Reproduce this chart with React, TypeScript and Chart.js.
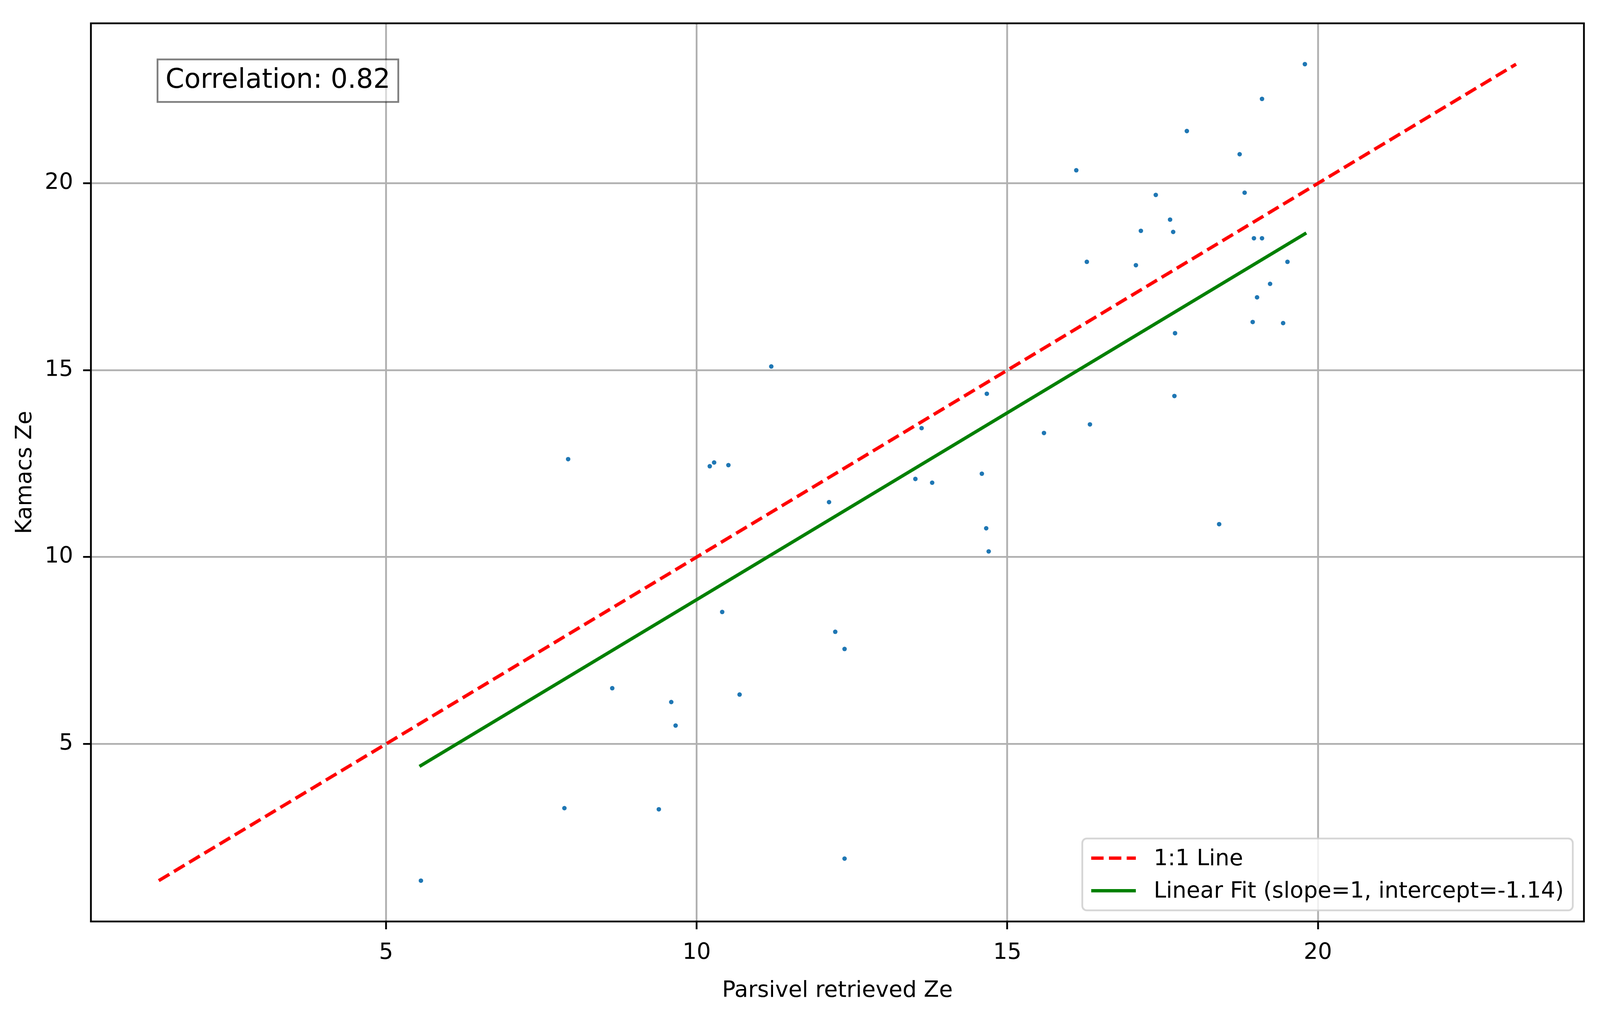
import React, { useRef, useEffect } from 'react';
import { Chart, registerables, Plugin } from 'chart.js';

Chart.register(...registerables);

// scatter points
const parsivelZe = [
    5.56, 7.87, 7.93, 8.64, 9.39, 9.59, 9.66, 10.21, 10.28, 10.51,
    10.69, 10.41, 11.20, 12.13, 12.23, 12.38, 12.38, 13.52, 13.62, 13.79,
    14.59, 14.67, 14.66, 14.70, 15.59, 16.11, 16.28, 16.33, 17.07, 17.15,
    17.39, 17.62, 17.67, 17.70, 17.69, 17.89, 18.41, 18.74, 18.82, 18.97,
    19.10, 18.95, 19.02, 19.23, 19.10, 19.44, 19.51, 19.79,
];
const kamacsZe = [
    1.34, 3.28, 12.62, 6.49, 3.25, 6.12, 5.49, 12.43, 12.53, 12.46,
    6.32, 8.53, 15.10, 11.47, 8.00, 7.54, 1.93, 12.09, 13.45, 11.99,
    12.23, 14.37, 10.77, 10.15, 13.32, 20.35, 17.90, 13.55, 17.81, 18.73,
    19.69, 19.03, 18.70, 15.99, 14.31, 21.40, 10.88, 20.78, 19.75, 18.53,
    18.53, 16.29, 16.95, 17.31, 22.26, 16.26, 17.90, 23.19,
];
const xTicks = [5, 10, 15, 20];
const yTicks = [5, 10, 15, 20];
const fitSlope = 1.0;
const fitIntercept = -1.14;
const correlation = 0.82;

const FONT = 'DejaVu Sans';
const REF_W = 4981;
const REF_H = 2620;

const ScatterCompare: React.FC = () => {
    const chartRef = useRef<HTMLCanvasElement>(null);

    useEffect(() => {
        document.documentElement.style.overflow = 'hidden';
        document.body.style.margin = '0';
        document.body.style.overflow = 'hidden';
        const ctx = chartRef.current?.getContext('2d');
        if (!ctx) return;

        // the chart fills the window; sizes follow the reference proportions
        const sx = window.innerWidth / REF_W;
        const sy = window.innerHeight / REF_H;
        const s = Math.min(sx, sy);
        const PT = (500 / 72) * s;

        const lo = Math.min(...parsivelZe, ...kamacsZe);
        const hi = Math.max(...parsivelZe, ...kamacsZe);
        const margin = 0.05 * (hi - lo);
        const xMinData = Math.min(...parsivelZe);
        const xMaxData = Math.max(...parsivelZe);

        const frameAndText: Plugin<'scatter'> = {
            id: 'frameAndText',
            afterDatasetsDraw(chart) {
                const { ctx, chartArea: a } = chart;
                ctx.save();
                // spines
                ctx.strokeStyle = '#000';
                ctx.lineWidth = 0.8 * PT;
                ctx.strokeRect(a.left, a.top, a.right - a.left, a.bottom - a.top);

                // correlation box
                const fs = 12 * PT;
                ctx.font = `${fs}px "${FONT}"`;
                const txt = `Correlation: ${correlation.toFixed(2)}`;
                const tw = ctx.measureText(txt).width;
                const tx = a.left + 0.05 * (a.right - a.left);
                const baseY = a.top + 0.05 * (a.bottom - a.top) + 0.73 * fs;
                const pad = 0.3 * fs;
                const bx = tx - pad;
                const by = baseY - 0.76 * fs - pad;
                const bw = tw + 2 * pad;
                const bh = 0.99 * fs + 2 * pad;
                ctx.fillStyle = 'rgba(255,255,255,0.5)';
                ctx.fillRect(bx, by, bw, bh);
                ctx.strokeStyle = 'rgba(0,0,0,0.5)';
                ctx.lineWidth = 0.8 * PT;
                ctx.strokeRect(bx, by, bw, bh);
                ctx.fillStyle = '#000';
                ctx.textBaseline = 'alphabetic';
                ctx.fillText(txt, tx, baseY);

                // legend, lower right
                const lf = 10 * PT;
                ctx.font = `${lf}px "${FONT}"`;
                const items = chart.data.datasets.filter(d => d.label) as any[];
                const textW = Math.max(...items.map(d => ctx.measureText(d.label).width));
                const bpad = 0.4 * lf;
                const handleLen = 2 * lf;
                const handlePad = 0.8 * lf;
                const rowH = 0.96 * lf;
                const spacing = 0.5 * lf;
                const lw = bpad * 2 + handleLen + handlePad + textW;
                const lh = bpad * 2 + rowH * items.length + spacing * (items.length - 1);
                const lx = a.right - 0.5 * lf - lw;
                const ly = a.bottom - 0.5 * lf - lh;
                ctx.beginPath();
                ctx.roundRect(lx, ly, lw, lh, 0.2 * lf);
                ctx.fillStyle = 'rgba(255,255,255,0.8)';
                ctx.fill();
                ctx.strokeStyle = 'rgba(204,204,204,0.8)';
                ctx.lineWidth = 0.8 * PT;
                ctx.stroke();
                items.forEach((d, i) => {
                    const cy = ly + bpad + rowH / 2 + i * (rowH + spacing);
                    ctx.beginPath();
                    ctx.strokeStyle = d.borderColor;
                    ctx.lineWidth = d.borderWidth;
                    ctx.setLineDash(d.borderDash || []);
                    ctx.moveTo(lx + bpad, cy);
                    ctx.lineTo(lx + bpad + handleLen, cy);
                    ctx.stroke();
                    ctx.setLineDash([]);
                    ctx.fillStyle = '#000';
                    ctx.textBaseline = 'middle';
                    ctx.fillText(d.label, lx + bpad + handleLen + handlePad, cy + 0.06 * lf);
                });
                ctx.restore();
            },
        };

        const axisCommon = (ticks: number[], title: string, isY: boolean) => ({
            type: 'linear' as const,
            min: lo - margin,
            max: hi + margin,
            afterBuildTicks: (axis: any) => {
                axis.ticks = ticks.map(v => ({ value: v }));
            },
            afterFit: (axis: any) => {
                if (isY) axis.width = 283 * sx;
                else axis.height = 260 * sy;
            },
            border: { display: false },
            grid: {
                color: '#b0b0b0',
                lineWidth: 0.8 * PT,
                tickColor: '#000',
                tickWidth: 0.8 * PT,
                tickLength: 3.5 * PT,
            },
            ticks: {
                color: '#000',
                padding: isY ? Math.max(4, 55 * sx - 24 * s) : Math.max(4, 76 * sy - 60 * s),
                maxRotation: 0,
                minRotation: 0,
                font: { family: FONT, size: 10 * PT },
            },
            title: {
                display: true,
                text: title,
                color: '#000',
                font: { family: FONT, size: 10 * PT },
                padding: isY
                    ? { top: Math.max(0, 79 * sx - 41.4 * s) }
                    : { bottom: Math.max(0, 82 * sy - 41.4 * s) },
            },
        });

        const chart = new Chart(ctx, {
            type: 'scatter',
            data: {
                datasets: [
                    {
                        label: '1:1 Line',
                        data: [{ x: lo, y: lo }, { x: hi, y: hi }],
                        showLine: true,
                        borderColor: '#ff0000',
                        borderWidth: 1.5 * PT,
                        borderDash: [5.55 * PT, 2.4 * PT],
                        borderCapStyle: 'butt',
                        pointRadius: 0,
                        order: 2,
                    },
                    {
                        label: `Linear Fit (slope=${Math.round(fitSlope)}, intercept=${fitIntercept.toFixed(2)})`,
                        data: [
                            { x: xMinData, y: fitSlope * xMinData + fitIntercept },
                            { x: xMaxData, y: fitSlope * xMaxData + fitIntercept },
                        ],
                        showLine: true,
                        borderColor: '#008000',
                        borderWidth: 1.5 * PT,
                        borderCapStyle: 'square',
                        pointRadius: 0,
                        order: 1,
                    },
                    {
                        data: parsivelZe.map((x, i) => ({ x, y: kamacsZe[i] })),
                        backgroundColor: '#1f77b4',
                        borderWidth: 0,
                        pointRadius: 7 * s,
                        order: 3,
                    },
                ],
            },
            options: {
                animation: false,
                responsive: true,
                maintainAspectRatio: false,
                layout: { padding: { top: 49 * sy, right: 50 * sx, left: 0, bottom: 0 } },
                plugins: {
                    legend: { display: false },
                    tooltip: { enabled: false },
                },
                scales: {
                    x: axisCommon(xTicks, 'Parsivel retrieved Ze', false),
                    y: axisCommon(yTicks, 'Kamacs Ze', true),
                },
            },
            plugins: [frameAndText],
        });

        return () => chart.destroy();
    }, []);

    return (
        <div style={{ position: 'relative', width: '100vw', height: '100vh' }}>
            <canvas ref={chartRef} />
        </div>
    );
};

export default function App() {
    return <ScatterCompare />;
}
